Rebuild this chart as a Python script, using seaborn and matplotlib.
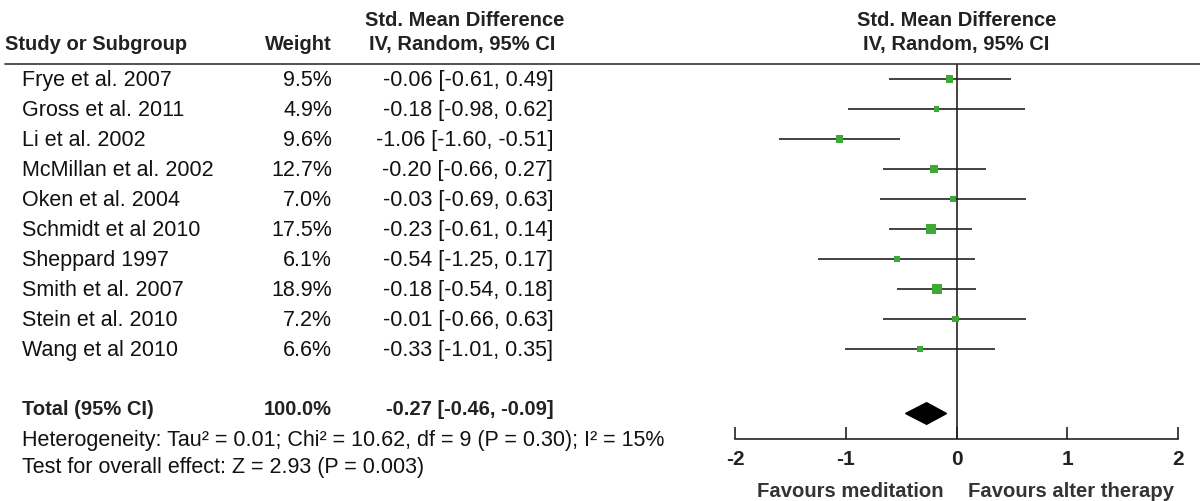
import matplotlib
matplotlib.use("Agg")
import matplotlib.pyplot as plt
import matplotlib.transforms as mtransforms
from matplotlib.lines import Line2D
import pandas as pd
import seaborn as sns

# Study data
studies = ["Frye et al. 2007", "Gross et al. 2011", "Li et al. 2002", "McMillan et al. 2002",
           "Oken et al. 2004", "Schmidt et al 2010", "Sheppard 1997", "Smith et al. 2007",
           "Stein et al. 2010", "Wang et al 2010"]
weights = [9.5, 4.9, 9.6, 12.7, 7.0, 17.5, 6.1, 18.9, 7.2, 6.6]
smd = [-0.06, -0.18, -1.06, -0.20, -0.03, -0.23, -0.54, -0.18, -0.01, -0.33]
ci_low = [-0.61, -0.98, -1.60, -0.66, -0.69, -0.61, -1.25, -0.54, -0.66, -1.01]
ci_high = [0.49, 0.62, -0.51, 0.27, 0.63, 0.14, 0.17, 0.18, 0.63, 0.35]

total_smd = -0.27
total_low = -0.46
total_high = -0.09
total_weight = 100.0

x_ticks = [-2, -1, 0, 1, 2]
heterogeneity = "Heterogeneity: Tau\u00b2 = 0.01; Chi\u00b2 = 10.62, df = 9 (P = 0.30); I\u00b2 = 15%"
overall = "Test for overall effect: Z = 2.93 (P = 0.003)"
favours_left = "Favours meditation"
favours_right = "Favours alter therapy"

sns.set_theme(style="white")
plt.rcParams['font.family'] = ['Liberation Sans', 'DejaVu Sans']
plt.rcParams['axes.unicode_minus'] = False

df = pd.DataFrame({"Study": studies, "Weight": weights, "SMD": smd,
                   "Low": ci_low, "High": ci_high})
df["row"] = range(len(df))
total_row = len(df) + 1
axis_row = total_row + 1

fig = plt.figure(figsize=(12, 5.02), dpi=100)
ax = fig.add_axes([0.6125, 0.1235, 0.3692, 0.747])

# confidence intervals
ax.hlines(df["row"], df["Low"], df["High"], color="#222222", lw=1.2, zorder=2)
# weighted squares (area proportional to weight)
k = 2.75
sns.scatterplot(data=df, x="SMD", y="row", size="Weight",
                sizes=(min(weights) * k, max(weights) * k), marker="s",
                color="#3daa35", edgecolor="none", legend=False, ax=ax, zorder=3)
# pooled diamond
h = 0.36
dy = total_row + 0.15
ax.fill([total_low, total_smd, total_high, total_smd],
        [dy, dy - h, dy, dy + h], color="black", zorder=3)
# line of no effect
ax.axvline(0, color="#222222", lw=1.2, zorder=1)

ax.set_xlim(-2, 2)
ax.set_ylim(axis_row, -0.5)
ax.set_xlabel("")
ax.set_ylabel("")
ax.set_yticks([])
ax.set_xticks(x_ticks)
ax.set_xticklabels([str(t) for t in x_ticks], fontsize=15, fontweight="bold", color="#222222")
ax.tick_params(axis="x", direction="in", length=9, width=1.2, color="#222222", pad=7, bottom=True)
for s in ["top", "left", "right"]:
    ax.spines[s].set_visible(False)
ax.spines["bottom"].set_color("#222222")
ax.spines["bottom"].set_linewidth(1.2)

# header separator across whole figure
fig.add_artist(Line2D([0.004, 1.0], [0.8705, 0.8705], color="#333333", lw=1.2))

tr = mtransforms.blended_transform_factory(fig.transFigure, ax.transData)
body = dict(fontsize=15.5, color="#111111", transform=tr, va="center")
bold = dict(fontsize=14.5, fontweight="bold", color="#222222", transform=tr, va="center")

# header (left table)
ax.text(0.387, -2.0, "Std. Mean Difference", ha="center", **bold)
ax.text(0.004, -1.2, "Study or Subgroup", ha="left", **bold)
ax.text(0.2767, -1.2, "Weight", ha="right", **bold)
ax.text(0.4625, -1.2, "IV, Random, 95% CI", ha="right", **bold)
# header (plot)
ax.text(0, -2.0, "Std. Mean Difference", ha="center", va="center", fontsize=14.5,
        fontweight="bold", color="#222222")
ax.text(0, -1.2, "IV, Random, 95% CI", ha="center", va="center", fontsize=14.5,
        fontweight="bold", color="#222222")

for _, r in df.iterrows():
    ax.text(0.0183, r["row"], r["Study"], ha="left", **body)
    ax.text(0.2767, r["row"], f"{r['Weight']:.1f}%", ha="right", **body)
    ax.text(0.461, r["row"], f"{r['SMD']:.2f} [{r['Low']:.2f}, {r['High']:.2f}]", ha="right", **body)

ax.text(0.0183, total_row - 0.03, "Total (95% CI)", ha="left", **bold)
ax.text(0.2767, total_row - 0.03, f"{total_weight:.1f}%", ha="right", **bold)
ax.text(0.461, total_row - 0.03, f"{total_smd:.2f} [{total_low:.2f}, {total_high:.2f}]", ha="right", **bold)
ax.text(0.0183, axis_row, heterogeneity, ha="left", **body)
ax.text(0.0183, axis_row + 0.93, overall, ha="left", **body)

ax.text(-0.12, axis_row + 1.7, favours_left, ha="right", va="center", fontsize=14.6,
        fontweight="bold", color="#333333")
ax.text(0.1, axis_row + 1.7, favours_right, ha="left", va="center", fontsize=14.6,
        fontweight="bold", color="#333333")

fig.savefig("out.png", dpi=100, facecolor="white")
